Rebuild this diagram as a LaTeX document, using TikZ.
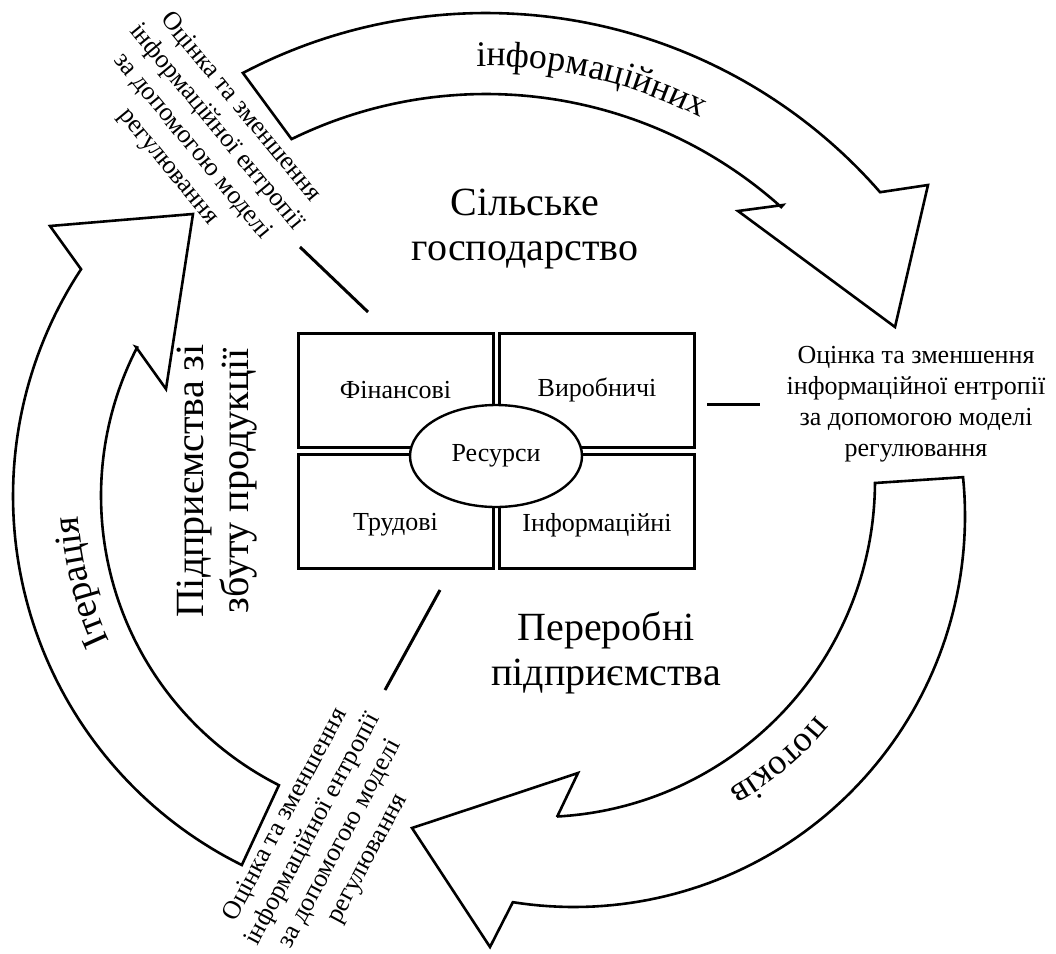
\documentclass[tikz,border=0pt]{standalone}
\usepackage{fontspec}
\setmainfont{Liberation Serif}
\usetikzlibrary{shapes.geometric,decorations.text}

\begin{document}
\begin{tikzpicture}[x=1pt,y=-1pt,
  band/.style={draw=black, line width=2.6pt, line join=miter, fill=white},
  cell/.style={draw=black, line width=3pt, minimum width=195pt, minimum height=114pt, inner sep=0pt},
  celltext/.style={font=\fontsize{26}{31}\selectfont, inner sep=0pt},
  note/.style={font=\fontsize{26}{31}\selectfont, align=center, inner sep=0pt},
  big/.style={font=\fontsize{40}{45}\selectfont, align=center, inner sep=0pt},
  tie/.style={line width=3pt}]
\useasboundingbox (0,0) rectangle (1056,953);

% three curved block arrows running clockwise
\draw[band] plot[domain=-117.7:-41.1, samples=80] ({486+523*cos(\x)},{536+523*sin(\x)})
  -- (928,185) -- (895,327) -- (738,211) -- (783,205)
  -- plot[domain=-48.1:-116.1, samples=80] ({486+442*cos(\x)},{536+442*sin(\x)}) -- cycle;
\draw[band] plot[domain=-5.7:99, samples=80] ({574+391*cos(\x)},{516+391*sin(\x)})
  -- (490,947) -- (412,828) -- (578,773) -- (557,817)
  -- plot[domain=86.9:0.34, samples=80] ({539+336*cos(\x)},{481+336*sin(\x)}) -- cycle;
\draw[band] plot[domain=116.4:213.4, samples=80] ({425+412*cos(\x)},{496+412*sin(\x)})
  -- (50,226) -- (193,214) -- (166,389) -- (136,347)
  -- plot[domain=207.3:116.8, samples=80] ({425+324*cos(\x)},{496+324*sin(\x)}) -- cycle;

% words written along the arrows
\path[decorate, decoration={text along path, text align=center,
  text={|\fontsize{36}{36}\selectfont|інформаційних}}]
  plot[domain=-107:-47, samples=60] ({486+470*cos(\x)},{536+470*sin(\x)});
\path[decorate, decoration={text along path, text align=center,
  text={|\fontsize{36}{36}\selectfont|потоків}}]
  plot[domain=20:80, samples=60] ({574+314*cos(\x)},{516+314*sin(\x)});
\path[decorate, decoration={text along path, text align=center,
  text={|\fontsize{38}{38}\selectfont|Ітерація}}]
  plot[domain=136:196, samples=60] ({425+347*cos(\x)},{496+347*sin(\x)});

% resource block in the centre
\node[cell] (fin) at (395.5,390) {};
\node[cell] (vyr) at (597,390) {};
\node[cell] (trud) at (395.5,511) {};
\node[cell] (inf) at (597,511) {};
\node[celltext] (tfin) at (fin.center) {Фінансові};
\node[celltext] (tvyr) at (vyr.center) {Виробничі};
\node[celltext] (ttrud) at ([yshift=-14pt]trud.center) {Трудові};
\node[celltext] (tinf) at ([yshift=-14pt]inf.center) {Інформаційні};
\node[ellipse, draw=black, line width=2.4pt, fill=white, minimum width=172pt,
  minimum height=102pt, inner sep=0pt, font=\fontsize{26}{31}\selectfont] (res) at (496,456) {Ресурси};

% sector names
\node[big] (agro) at (525,229) {Сільське\\господарство};
\node[big] (proc) at (606,653) {Переробні\\підприємства};
\node[big, rotate=90] (sales) at (217,481) {Підприємства зі\\збуту продукції};

% entropy notes
\node[note, rotate=-50.5] (tlnote) at (204,137) {Оцінка та зменшення\\інформаційної ентропії\\за допомогою моделі\\регулювання};
\node[note] (rnote) at (916,404) {Оцінка та зменшення\\інформаційної ентропії\\за допомогою моделі\\регулювання};
\node[note, rotate=61.8] (blnote) at (327,837) {Оцінка та зменшення\\інформаційної ентропії\\за допомогою моделі\\регулювання};

% short ties between the block and the notes
\coordinate (t1a) at (368,312);
\coordinate (t1b) at (300,247);
\coordinate (t2a) at (707,404);
\coordinate (t2b) at (760,404);
\coordinate (t3a) at (440,590);
\coordinate (t3b) at (385,690);
\draw[tie] (t1a) -- (t1b);
\draw[tie] (t2a) -- (t2b);
\draw[tie] (t3a) -- (t3b);
\end{tikzpicture}
\end{document}
